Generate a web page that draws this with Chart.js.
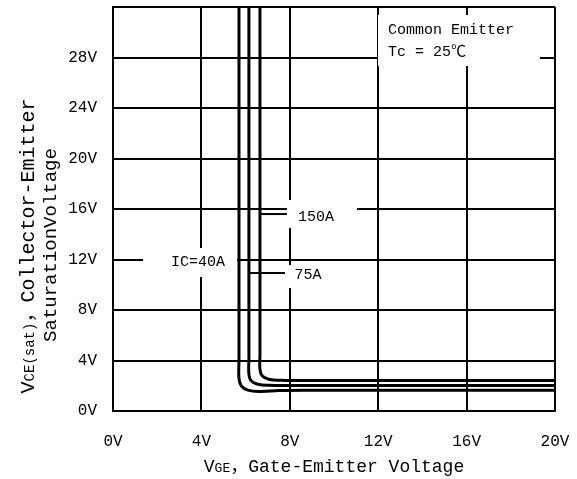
<!DOCTYPE html>
<html>
<head>
<meta charset="utf-8">
<script src="https://cdn.jsdelivr.net/npm/chart.js@4.4.1/dist/chart.umd.min.js"></script>
<style>
  html, body { margin: 0; padding: 0; background: #fff; }
</style>
</head>
<body>
<canvas id="vce-chart" width="577" height="479"></canvas>
<script>
// tick labels
const xTickLabels = ['0V', '4V', '8V', '12V', '16V', '20V'];
const yTickLabels = ['0V', '4V', '8V', '12V', '16V', '20V', '24V', '28V'];

// VGE / VCE(sat) (volts)
const vge40A = [5.70, 5.70, 5.70, 5.80, 6.10, 6.70, 7.50, 9.00, 20.0];
const vce40A = [32.0, 4.00, 2.60, 2.00, 1.65, 1.55, 1.62, 1.64, 1.64];
const vge75A = [6.15, 6.15, 6.15, 6.25, 6.55, 7.10, 8.00, 20.0];
const vce75A = [32.0, 4.20, 2.90, 2.40, 2.12, 2.03, 2.02, 2.02];
const vge150A = [6.65, 6.65, 6.65, 6.75, 7.05, 7.60, 8.50, 20.0];
const vce150A = [32.0, 4.50, 3.30, 2.80, 2.52, 2.43, 2.42, 2.42];

// leader lines from the labels to the curves
const lead75AX = [6.15, 7.78];
const lead75AY = [10.93, 10.93];
const lead150AX = [6.65, 7.87];
const lead150AY = [15.6, 15.6];

const FONT = '"Liberation Mono", "Noto Sans CJK SC", monospace';

function toPoints(xs, ys) {
    return xs.map((x, i) => ({ x: x, y: ys[i] }));
}

// label boxes in axis units: [x0, x1, y0, y1], white so they cut the grid
const labelBoxes = [
    { box: [11.99, 19.32, 27.33, 31.37], lines: ['Common Emitter', 'Tc = 25℃'], x: 12.44, y: [30.18, 28.44], align: 'left' },
    { box: [7.87, 11.04, 14.5, 16.71], lines: ['150A'], x: 9.19, y: [15.37], align: 'center' },
    { box: [7.78, 9.82, 9.74, 11.56], lines: ['75A'], x: 8.82, y: [10.77], align: 'center' },
    { box: [1.36, 5.61, 10.61, 12.91], lines: ['IC=40A'], x: 3.85, y: [11.8], align: 'center' }
];

// draw text made of runs with different sizes, centred on (cx, cy)
function drawRuns(ctx, runs, cx, cy, rotate) {
    ctx.save();
    ctx.translate(cx, cy);
    if (rotate) ctx.rotate(-Math.PI / 2);
    let total = 0;
    runs.forEach(r => {
        ctx.font = r.size + 'px ' + FONT;
        r.w = ctx.measureText(r.text).width;
        total += r.w;
    });
    let x = -total / 2;
    ctx.textAlign = 'left';
    ctx.textBaseline = 'alphabetic';
    ctx.fillStyle = '#000';
    runs.forEach(r => {
        ctx.font = r.size + 'px ' + FONT;
        ctx.fillText(r.text, x, 6);
        x += r.w;
    });
    ctx.restore();
}

const annotations = {
    id: 'annotations',
    beforeDatasetsDraw(chart) {
        const ctx = chart.ctx;
        const xs = chart.scales.x;
        const ys = chart.scales.y;
        ctx.save();
        ctx.fillStyle = '#fff';
        labelBoxes.forEach(l => {
            const x0 = xs.getPixelForValue(l.box[0]);
            const x1 = xs.getPixelForValue(l.box[1]);
            const y0 = ys.getPixelForValue(l.box[3]);
            const y1 = ys.getPixelForValue(l.box[2]);
            ctx.fillRect(x0, y0, x1 - x0, y1 - y0);
        });
        ctx.restore();
    },
    afterDatasetsDraw(chart) {
        const ctx = chart.ctx;
        const xs = chart.scales.x;
        const ys = chart.scales.y;
        ctx.save();
        ctx.fillStyle = '#000';
        ctx.font = '15px ' + FONT;
        ctx.textBaseline = 'middle';
        labelBoxes.forEach(l => {
            ctx.textAlign = l.align;
            l.lines.forEach((t, i) => {
                ctx.fillText(t, xs.getPixelForValue(l.x), ys.getPixelForValue(l.y[i]));
            });
        });
        ctx.restore();

        // axis titles
        drawRuns(ctx, [
            { text: 'V', size: 18 },
            { text: 'GE', size: 13 },
            { text: '，', size: 18 },
            { text: 'Gate-Emitter Voltage', size: 18 }
        ], 334, 466, false);
        drawRuns(ctx, [
            { text: 'V', size: 20 },
            { text: 'CE(sat)', size: 14 },
            { text: '，', size: 20 },
            { text: 'Collector-Emitter', size: 20 }
        ], 28, 246, true);
        drawRuns(ctx, [
            { text: 'SaturationVoltage', size: 19 }
        ], 50, 245, true);
    }
};

function curve(xs, ys, width) {
    return {
        data: toPoints(xs, ys),
        borderColor: '#000',
        borderWidth: width,
        pointRadius: 0,
        tension: 0.4,
        fill: false
    };
}

function leader(xs, ys) {
    return {
        data: toPoints(xs, ys),
        borderColor: '#000',
        borderWidth: 2,
        pointRadius: 0,
        tension: 0,
        fill: false
    };
}

new Chart(document.getElementById('vce-chart'), {
    type: 'line',
    data: {
        datasets: [
            curve(vge40A, vce40A, 3),
            curve(vge75A, vce75A, 3),
            curve(vge150A, vce150A, 3),
            leader(lead75AX, lead75AY),
            leader(lead150AX, lead150AY)
        ]
    },
    options: {
        responsive: false,
        animation: false,
        layout: { padding: { top: 7, right: 22, left: 0, bottom: 0 } },
        plugins: {
            legend: { display: false },
            tooltip: { enabled: false }
        },
        scales: {
            x: {
                type: 'linear',
                min: 0,
                max: 20,
                afterFit(scale) {
                    scale.height = 68;
                    scale.paddingLeft = 0;
                    scale.paddingRight = 0;
                },
                grid: { color: '#000', lineWidth: 2, drawTicks: false },
                border: { color: '#000', width: 2 },
                ticks: {
                    stepSize: 4,
                    padding: 21,
                    color: '#000',
                    font: { family: FONT, size: 16 },
                    maxRotation: 0,
                    callback: v => xTickLabels[v / 4] || ''
                }
            },
            y: {
                type: 'linear',
                min: 0,
                max: 32,
                afterFit(scale) {
                    scale.width = 113;
                    scale.paddingTop = 0;
                    scale.paddingBottom = 0;
                },
                grid: { color: '#000', lineWidth: 2, drawTicks: false },
                border: { color: '#000', width: 2 },
                ticks: {
                    stepSize: 4,
                    padding: 16,
                    color: '#000',
                    font: { family: FONT, size: 16 },
                    callback: v => yTickLabels[v / 4] || ''
                }
            }
        }
    },
    plugins: [annotations]
});
</script>
</body>
</html>
